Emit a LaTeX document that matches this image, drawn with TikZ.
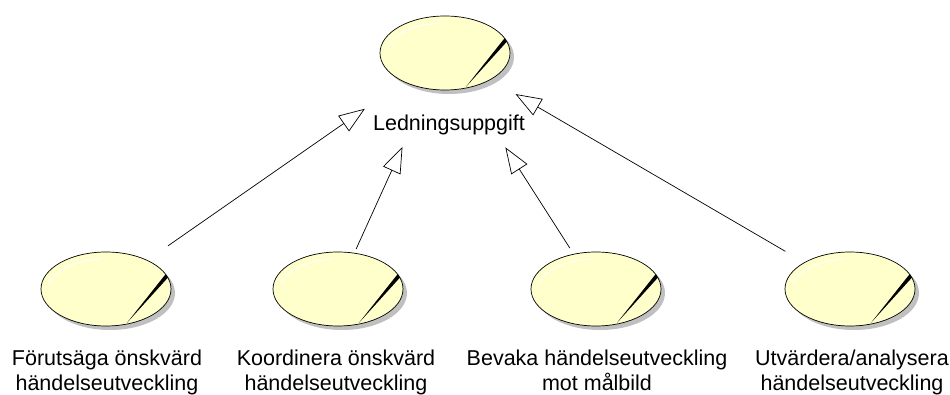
\documentclass[tikz,border=0pt]{standalone}
\usepackage{fontspec}
\setmainfont{Liberation Sans}
\usetikzlibrary{shapes.geometric,shadows,arrows.meta,calc}
\definecolor{ucfill}{RGB}{255,255,204}
\definecolor{ucshadow}{RGB}{192,192,192}

\tikzset{
  usecase/.style={ellipse, draw=black, line width=0.7pt, fill=ucfill,
    minimum width=130pt, minimum height=74pt, inner sep=0pt,
    drop shadow={shadow xshift=4pt, shadow yshift=-4pt, fill=ucshadow, opacity=1, draw=none},
    path picture={
      \begin{scope}[shift={(path picture bounding box.center)}]
        % soft highlight along the upper left rim
        \draw[white, line width=0.9pt] (172:58pt and 30pt)
          arc[start angle=172, end angle=95, x radius=58pt, y radius=30pt];
        % tapered black stroke
        \fill[black] (20.8pt,-34pt) -- (63.4pt,19.6pt) -- (66.8pt,16.8pt) -- cycle;
      \end{scope}
    }},
  uclabel/.style={font=\fontsize{21.5}{25}\selectfont, align=center, inner sep=0pt},
  gen/.style={draw=black, line width=0.7pt, -{Triangle[open, length=26pt, width=19pt]}}
}

\begin{document}
\begin{tikzpicture}[x=1pt, y=1pt]
  \useasboundingbox (0,0) rectangle (950,394);

  % use cases
  \node[usecase] (top) at (445,341) {};
  \node[usecase] (u1) at (106,105) {};
  \node[usecase] (u2) at (338,105) {};
  \node[usecase] (u3) at (596,105) {};
  \node[usecase] (u4) at (850,105) {};

  % names
  \node[uclabel, anchor=base] (ltop) at (449,263) {Ledningsuppgift};
  \node[uclabel, anchor=north] (l1) at (107,44) {Förutsäga önskvärd\\händelseutveckling};
  \node[uclabel, anchor=north] (l2) at (336,44) {Koordinera önskvärd\\händelseutveckling};
  \node[uclabel, anchor=north] (l3) at (597,44) {Bevaka händelseutveckling\\mot målbild};
  \node[uclabel, anchor=north] (l4) at (852,44) {Utvärdera/analysera\\händelseutveckling};

  % generalisations
  \draw[gen] ($(u1)!75.5pt!(top)$) -- ($(top)!97.6pt!(u1)$);
  \draw[gen] ($(u2)!44pt!(top)$) -- ($(top)!103pt!(u2)$);
  \draw[gen] ($(u3)!48.5pt!(top)$) -- ($(top)!112pt!(u3)$);
  \draw[gen] ($(u4)!74.8pt!(top)$) -- ($(top)!81.6pt!(u4)$);
\end{tikzpicture}
\end{document}
